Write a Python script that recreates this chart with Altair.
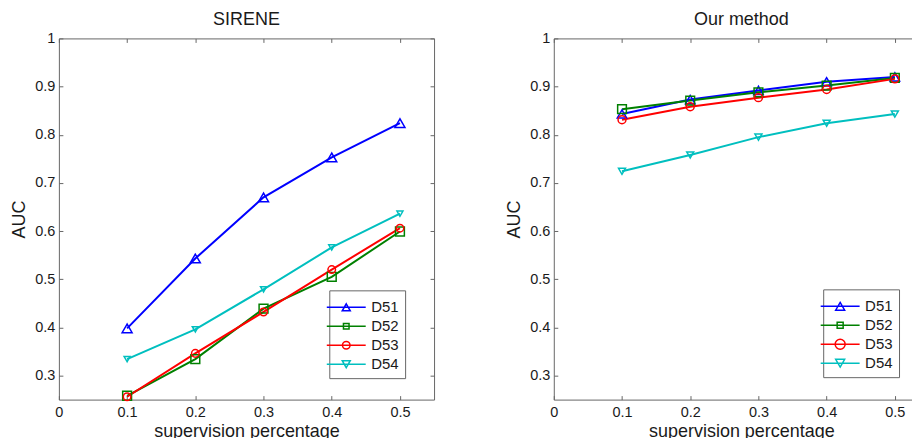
import altair as alt
import pandas as pd

# ---- data ----
x_vals = [0.1, 0.2, 0.3, 0.4, 0.5]
series = ["D51", "D52", "D53", "D54"]

sirene_d51 = [0.398, 0.543, 0.670, 0.753, 0.824]
sirene_d52 = [0.258, 0.334, 0.439, 0.505, 0.599]
sirene_d53 = [0.256, 0.346, 0.432, 0.520, 0.606]
sirene_d54 = [0.334, 0.396, 0.479, 0.566, 0.636]

ours_d51 = [0.843, 0.873, 0.892, 0.910, 0.920]
ours_d52 = [0.853, 0.871, 0.888, 0.902, 0.918]
ours_d53 = [0.831, 0.858, 0.877, 0.894, 0.916]
ours_d54 = [0.724, 0.758, 0.795, 0.824, 0.843]

x_ticks = [0, 0.1, 0.2, 0.3, 0.4, 0.5]
y_ticks = [0.3, 0.4, 0.5, 0.6, 0.7, 0.8, 0.9, 1.0]

colors = ["#0000ff", "#008000", "#ff0000", "#00bfbf"]
shapes = ["triangle-up", "square", "circle", "triangle-down"]

FONT = "Liberation Sans"
FRAME = "#666666"
TEXT = "#1a1a1a"


def legend_paths(tri, sq, circ):
    line = "M-1.95,0H1.95"
    h = tri * 0.87
    return [
        f"{line}M0,-{h:.3f}L{tri},{h:.3f}L-{tri},{h:.3f}Z",
        f"{line}M-{sq},-{sq}H{sq}V{sq}H-{sq}Z",
        f"{line}M-{circ},0A{circ},{circ} 0 1,0 {circ},0A{circ},{circ} 0 1,0 -{circ},0Z",
        f"{line}M0,{h:.3f}L{tri},-{h:.3f}L-{tri},-{h:.3f}Z",
    ]


def make_df(vals):
    rows = []
    for name, ys in zip(series, vals):
        for xv, yv in zip(x_vals, ys):
            rows.append({"x": xv, "y": yv, "series": name})
    return pd.DataFrame(rows)


def panel(title, vals, sizes, leg_paths, leg_x, leg_y):
    df = make_df(vals)
    xscale = alt.Scale(domain=[0, 0.55], nice=False, zero=False)
    yscale = alt.Scale(domain=[0.25, 1], nice=False, zero=False)
    cscale = alt.Scale(domain=series, range=colors)

    lines = alt.Chart(df).mark_line(strokeWidth=2).encode(
        x=alt.X("x:Q", scale=xscale, axis=alt.Axis(
            values=x_ticks, format="~g", title="supervision percentage",
            orient="bottom", offset=-4, tickSize=4, domain=False, grid=False,
            labelFlush=False, labelOverlap=False, labelPadding=6, titlePadding=3)),
        y=alt.Y("y:Q", scale=yscale, axis=alt.Axis(
            values=y_ticks, format="~g", title="AUC",
            orient="left", offset=-4, tickSize=4, domain=False, grid=False,
            labelFlush=False, labelOverlap=False, labelPadding=4, titlePadding=6)),
        color=alt.Color("series:N", scale=cscale, legend=None),
        detail="series:N",
    )

    points = alt.Chart(df).mark_point(filled=False, strokeWidth=1.5, opacity=1).encode(
        x=alt.X("x:Q", scale=xscale, axis=alt.Axis(
            values=x_ticks, orient="top", offset=-4, tickSize=4, labels=False,
            domain=False, grid=False, title=None, minExtent=0, maxExtent=0)),
        y=alt.Y("y:Q", scale=yscale, axis=alt.Axis(
            values=y_ticks, orient="right", offset=-4, tickSize=4, labels=False,
            domain=False, grid=False, title=None, minExtent=0, maxExtent=0)),
        color=alt.Color("series:N", scale=cscale, legend=None),
        shape=alt.Shape("series:N", scale=alt.Scale(domain=series, range=shapes), legend=None),
        size=alt.Size("series:N", scale=alt.Scale(domain=series, range=sizes), legend=None),
    )

    leg = alt.Legend(
        title=None, orient="none", legendX=leg_x, legendY=leg_y,
        padding=6, strokeColor=FRAME, fillColor="white",
        symbolSize=400, symbolStrokeWidth=1.5, labelOffset=14,
        labelFont=FONT, labelFontSize=15, labelColor=TEXT, rowPadding=0,
        symbolOpacity=1,
    )
    legend_layer = alt.Chart(df).transform_filter("false").mark_point(
        filled=False, strokeWidth=1.5, opacity=1
    ).encode(
        x=alt.X("x:Q", scale=xscale, axis=None),
        y=alt.Y("y:Q", scale=yscale, axis=None),
        color=alt.Color("series:N", scale=cscale, legend=leg),
        shape=alt.Shape("series:N", scale=alt.Scale(domain=series, range=leg_paths), legend=leg),
    )

    return alt.layer(lines, points, legend_layer).resolve_scale(
        color="independent", shape="independent", size="independent"
    ).resolve_axis(x="independent", y="independent").properties(
        width=376, height=362,
        title=alt.TitleParams(title, fontSize=18, font=FONT, fontWeight="normal",
                              color=TEXT, anchor="middle", frame="group",
                              baseline="alphabetic", offset=-12.5),
    )


left = panel("SIRENE", [sirene_d51, sirene_d52, sirene_d53, sirene_d54],
             [100, 36, 64, 100], legend_paths(0.4, 0.28, 0.38), 271, 252.5)
right = panel("Our method", [ours_d51, ours_d52, ours_d53, ours_d54],
              [90, 49, 121, 90], legend_paths(0.45, 0.3, 0.5), 270, 251.5)

chart = alt.hconcat(left, right, spacing=70).properties(
    padding={"left": 2, "top": 2, "right": -18, "bottom": -3}
).configure_axis(
    labelFont=FONT, labelFontSize=14.5, labelColor=TEXT,
    titleFont=FONT, titleFontSize=18, titleFontWeight="normal", titleColor=TEXT,
    tickColor=FRAME, tickWidth=1,
).configure_view(stroke=FRAME, strokeWidth=1)

chart.save("out.html", embed_options={"renderer": "svg", "actions": False})
